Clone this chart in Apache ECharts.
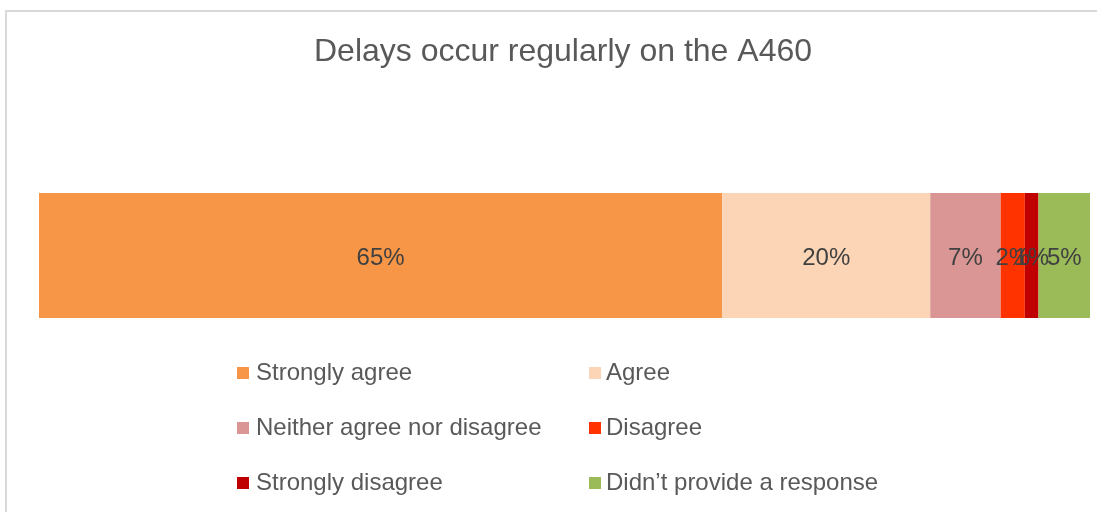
<!DOCTYPE html>
<html><head><meta charset="utf-8">
<script src="https://cdn.jsdelivr.net/npm/echarts@6/dist/echarts.min.js"></script>
<style>html,body{margin:0;padding:0;background:#fff}#c{width:1097px;height:512px}</style>
</head><body><div id="c"></div>
<script>
const categories = ['Delays occur regularly on the A460'];
const seriesNames = ['Strongly agree','Agree','Neither agree nor disagree','Disagree','Strongly disagree','Didn\u2019t provide a response'];
const strongAgree = [65];
const agree = [19.8];
const neither = [6.7];
const disagree = [2.3];
const strongDisagree = [1.3];
const noResponse = [4.9];
const colors = ['#F79646','#FBD5B5','#D99694','#FF3300','#C00000','#9BBB59'];
const values = [strongAgree, agree, neither, disagree, strongDisagree, noResponse];

const chart = echarts.init(document.getElementById('c'));
const FONT = '"Liberation Sans", Arial, sans-serif';
chart.setOption({
  animation: false,
  graphic: [{type:'rect', shape:{x:6,y:11,width:1300,height:700}, style:{fill:'none', stroke:'#D9D9D9', lineWidth:2}, z:-1}],
  title: {text: categories[0], left: 558, textAlign: 'center', top: 31,
    textStyle: {fontFamily: FONT, fontSize: 32, fontWeight: 'normal', color: '#595959'}},
  grid: {left: 39, right: 7, top: 193, bottom: 194},
  xAxis: {type: 'value', min: 0, max: 100, show: false},
  yAxis: {type: 'category', data: categories, show: false},
  legend: [
    {data: [seriesNames[0], seriesNames[2], seriesNames[4]], orient: 'vertical', left: 232, top: 356, itemGap: 31,
     itemWidth: 12, itemHeight: 12, icon: 'rect',
     textStyle: {fontFamily: FONT, fontSize: 24, color: '#595959', lineHeight: 24, padding: [0,0,0,2]}},
    {data: [seriesNames[1], seriesNames[3], seriesNames[5]], orient: 'vertical', left: 584, top: 356, itemGap: 31,
     itemWidth: 12, itemHeight: 12, icon: 'rect',
     textStyle: {fontFamily: FONT, fontSize: 24, color: '#595959', lineHeight: 24, padding: [0,0,0,0]}}
  ],
  series: seriesNames.map((n, i) => ({
    name: n, type: 'bar', stack: 'total', data: values[i], barWidth: '100%',
    itemStyle: {color: colors[i]},
    label: {show: true, position: 'inside', offset: [0, 3], formatter: p => Math.round(p.value) + '%',
      fontFamily: FONT, fontSize: 24, color: '#404040'}
  }))
});
</script></body></html>
